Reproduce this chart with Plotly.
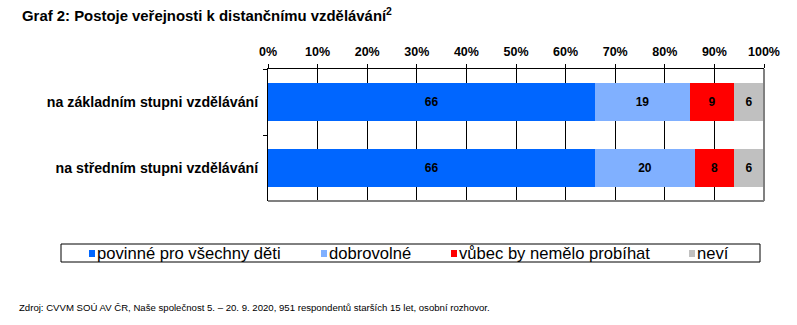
import plotly.graph_objects as go

# Survey data (percent)
categories = ["na základním stupni vzdělávání", "na středním stupni vzdělávání"]
series_names = ["povinné pro všechny děti", "dobrovolné", "vůbec by nemělo probíhat", "neví"]
povinne = [66, 66]
dobrovolne = [19, 20]
vubec = [9, 8]
nevi = [6, 6]
series_values = [povinne, dobrovolne, vubec, nevi]
tick_values = [0, 10, 20, 30, 40, 50, 60, 70, 80, 90, 100]
tick_labels = [f"{v}%" for v in tick_values]

colors = ["#0066FF", "#80B0FF", "#FF0000", "#C0C0C0"]
FONT = "Liberation Sans, Arial, sans-serif"

W, H = 797, 325
ML, MR, MT, MB = 268, 33, 69, 124
PW = W - ML - MR
PH = H - MT - MB


def px_x(x):
    return (x - ML) / PW


def px_y(y):
    return 1 - (y - MT) / PH


fig = go.Figure()
for name, vals, col in zip(series_names, series_values, colors):
    fig.add_trace(go.Bar(
        y=categories, x=vals, name=name, orientation="h",
        marker=dict(color=col, line=dict(width=0)),
        text=[str(v) for v in vals], textposition="inside",
        insidetextanchor="middle", textangle=0,
        textfont=dict(family=FONT, size=12, color="black", weight="bold"),
        showlegend=False,
    ))

fig.update_layout(
    width=W, height=H,
    margin=dict(l=ML, r=MR, t=MT, b=MB),
    barmode="stack", bargap=0.41,
    plot_bgcolor="white", paper_bgcolor="white",
    font=dict(family=FONT, color="black"),
    uniformtext=dict(mode=False),
)
fig.update_xaxes(
    side="top", range=[0, 100], tickvals=tick_values, ticktext=tick_labels,
    ticks="outside", ticklen=4, tickcolor="black", tickwidth=1,
    showgrid=True, gridcolor="black", gridwidth=1,
    showline=True, linecolor="black", linewidth=1,
    zeroline=False, ticklabelstandoff=3,
    tickfont=dict(family=FONT, size=12.5, color="black", weight="bold"),
)
fig.update_yaxes(
    categoryorder="array", categoryarray=categories, autorange="reversed",
    ticks="outside", ticklen=4, tickcolor="black", tickson="boundaries",
    showline=True, linecolor="black", linewidth=1, showgrid=False,
    ticklabelstandoff=6,
    tickfont=dict(family=FONT, size=14.2, color="black", weight="bold"),
)

shapes = []
# grey frame on right and bottom of the plot area
shapes.append(dict(type="line", xref="paper", yref="paper", x0=1, x1=1, y0=0, y1=1,
                   line=dict(color="#808080", width=2)))
shapes.append(dict(type="line", xref="paper", yref="paper", x0=0, x1=1, y0=0, y1=0,
                   line=dict(color="#808080", width=2)))

# legend box with coloured markers
shapes.append(dict(type="rect", xref="paper", yref="paper",
                   x0=px_x(61), x1=px_x(760), y0=px_y(262), y1=px_y(244),
                   line=dict(color="black", width=1), fillcolor="white"))
legend_x = [89, 321, 451, 689]
annotations = []
for name, col, lx in zip(series_names, colors, legend_x):
    shapes.append(dict(type="rect", xref="paper", yref="paper",
                       x0=px_x(lx), x1=px_x(lx + 6), y0=px_y(257), y1=px_y(250),
                       line=dict(width=0), fillcolor=col))
    annotations.append(dict(xref="paper", yref="paper", x=px_x(lx + 6), y=px_y(253),
                            text=name, showarrow=False, xanchor="left", yanchor="middle",
                            font=dict(family=FONT, size=16.6, color="black")))

annotations.append(dict(xref="paper", yref="paper", x=px_x(20), y=px_y(15),
                        text="<b>Graf 2: Postoje veřejnosti k distančnímu vzdělávání<sup>2</sup></b>",
                        showarrow=False, xanchor="left", yanchor="middle",
                        font=dict(family=FONT, size=14.9, color="black")))
annotations.append(dict(xref="paper", yref="paper", x=px_x(17), y=px_y(307),
                        text="Zdroj: CVVM SOÚ AV ČR, Naše společnost 5. – 20. 9. 2020, 951 respondentů starších 15 let, osobní rozhovor.",
                        showarrow=False, xanchor="left", yanchor="middle",
                        font=dict(family=FONT, size=9.6, color="black")))

fig.update_layout(shapes=shapes, annotations=annotations)
fig.write_html("out.html")
